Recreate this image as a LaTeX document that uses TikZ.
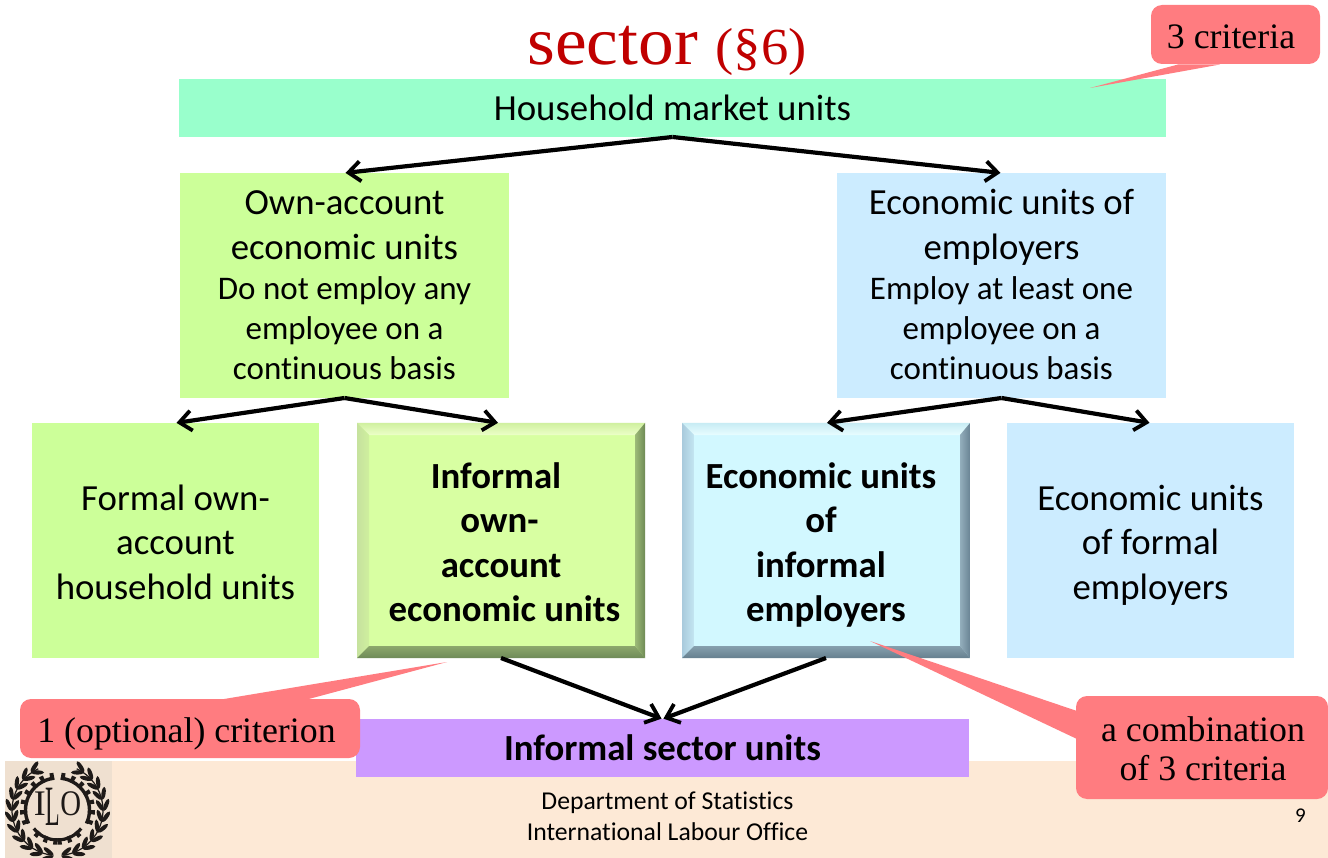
\documentclass[tikz,border=0pt]{standalone}
\usepackage{fontspec}
\setmainfont[Ligatures=NoCommon]{Carlito}
\newfontfamily\serifcall[Ligatures=NoCommon]{Liberation Serif}
\newfontfamily\titleface[FakeStretch=1.05]{Liberation Serif}
\usetikzlibrary{arrows.meta,calc}
\definecolor{mint}{HTML}{99FFCC}
\definecolor{lime}{HTML}{CCFF99}
\definecolor{sky}{HTML}{CCECFF}
\definecolor{limein}{HTML}{D8FFA2}
\definecolor{skyin}{HTML}{D2F8FF}
\definecolor{violet}{HTML}{CC99FF}
\definecolor{foot}{HTML}{FDE9D6}
\definecolor{logobg}{HTML}{EFE0D0}
\definecolor{callred}{HTML}{FF7C80}
\definecolor{titlered}{HTML}{C00000}
\definecolor{logoink}{HTML}{1E1A18}
\tikzset{
  x=1pt,y=-1pt,
  flat/.style={rectangle,inner sep=0pt,outer sep=0pt,align=center,text=black,font=\fontsize{36.8}{44.5}\selectfont},
  boldtext/.style={flat,font=\fontsize{36.8}{44.5}\selectfont\bfseries},
  callout/.style={rectangle,rounded corners=11pt,inner sep=0pt,outer sep=0pt,fill=callred},
  calltext/.style={inner sep=0pt,outer sep=0pt,align=center,font=\fontsize{35.8}{39}\selectfont\serifcall},
  tail/.style={fill=callred,draw=none},
  link/.style={draw=black,line width=4.2pt,-{Straight Barb[length=12pt,width=20pt,line width=3.8pt]},shorten >=1pt},
}
\newcommand{\subf}{\fontsize{33}{40}\selectfont}
\newcommand{\firststrut}{\rule{0pt}{30pt}}
% node, edge/inner colours for top, left, right, bottom
\newcommand{\bevel}[9]{%
  \definecolor{bA}{HTML}{#2}\definecolor{bB}{HTML}{#3}\definecolor{bC}{HTML}{#4}\definecolor{bD}{HTML}{#5}%
  \definecolor{bE}{HTML}{#6}\definecolor{bF}{HTML}{#7}\definecolor{bG}{HTML}{#8}\definecolor{bH}{HTML}{#9}%
  \begin{scope}
    \clip (#1.north west) -- (#1.north east) -- ($(#1.north east)+(-10,12)$) -- ($(#1.north west)+(12,12)$) -- cycle;
    \shade[top color=bA,bottom color=bB] (#1.north west) rectangle ($(#1.north east)+(0,12)$);
  \end{scope}
  \begin{scope}
    \clip (#1.north west) -- ($(#1.north west)+(12,12)$) -- ($(#1.south west)+(12,-12)$) -- (#1.south west) -- cycle;
    \shade[left color=bC,right color=bD] (#1.north west) rectangle ($(#1.south west)+(12,0)$);
  \end{scope}
  \begin{scope}
    \clip (#1.north east) -- ($(#1.north east)+(-10,12)$) -- ($(#1.south east)+(-10,-12)$) -- (#1.south east) -- cycle;
    \shade[left color=bF,right color=bE] ($(#1.north east)+(-10,0)$) rectangle (#1.south east);
  \end{scope}
  \begin{scope}
    \clip (#1.south west) -- ($(#1.south west)+(12,-12)$) -- ($(#1.south east)+(-10,-12)$) -- (#1.south east) -- cycle;
    \shade[top color=bH,bottom color=bG] ($(#1.south west)+(0,-12)$) rectangle (#1.south east);
  \end{scope}
}
\newcommand{\halfwreath}{%
  \foreach \t in {118,132,...,258}{
    \fill[logoink] (\t:49) ellipse[x radius=6.5pt,y radius=2.1pt,rotate=\t-90+28];
    \fill[logoink] (\t:42.5) ellipse[x radius=6.5pt,y radius=2.1pt,rotate=\t-90-28];
  }
  \draw[logoink,line width=1.2pt] (262:45.5) arc[start angle=262,end angle=115,radius=45.5];
  \draw[logoink,line width=3.4pt] (96:32) arc[start angle=96,end angle=205,radius=32];
  \draw[logoink,line width=7pt,dash pattern=on 4pt off 6pt] (96:34) arc[start angle=96,end angle=205,radius=34];
  \draw[logoink,line width=3.2pt] (-90:30) arc[start angle=-90,end angle=-142,radius=30];
  \draw[logoink,line width=6.5pt,dash pattern=on 4pt off 6pt] (-90:31.5) arc[start angle=-90,end angle=-142,radius=31.5];
}
\begin{document}
\begin{tikzpicture}
\useasboundingbox (0,0) rectangle (1328,858);
\fill[white] (0,0) rectangle (1328,858);
% footer
\node[flat,fill=foot,minimum width=1323pt,minimum height=97pt] (footer) at (666.5,809.5) {};
\node[flat,fill=logobg,minimum width=107pt,minimum height=97pt] (logo) at (58.5,809.5) {};
% logo drawing
\begin{scope}[shift={(57.5,810)},y=1pt]
  \halfwreath
  \begin{scope}[xscale=-1]\halfwreath\end{scope}
  \node[inner sep=0pt,anchor=base,text=logoink,font=\fontsize{36}{36}\selectfont\serifcall] (ilot) at (0,-5)
    {I\raisebox{-10pt}{\fontsize{57}{57}\selectfont\scalebox{0.42}[1]{L}}\scalebox{0.8}[1]{O}};
\end{scope}
% title
\node[inner sep=0pt,text=titlered,anchor=base] (title) at (667,65)
  {\titleface\fontsize{68}{68}\selectfont sector \fontsize{52}{52}\selectfont(§6)};
% boxes
\node[flat,fill=mint,minimum width=987pt,minimum height=58pt] (hh) at (672.5,108) {Household market units};
\node[flat,fill=lime,minimum width=329pt,minimum height=225pt] (own) at (344.5,285.5) {};
\node[flat,anchor=north] (ownt) at (344.5,185) {\firststrut Own-account\\economic units\\[-4pt]\subf Do not employ any\\[-4.5pt]\subf employee on a\\[-4.5pt]\subf continuous basis};
\node[flat,fill=sky,minimum width=329pt,minimum height=225pt] (emp) at (1001.5,285.5) {};
\node[flat,anchor=north] (empt) at (1001.5,185) {\firststrut Economic units of\\employers\\[-4pt]\subf Employ at least one\\[-4.5pt]\subf employee on a\\[-4.5pt]\subf continuous basis};
\node[flat,fill=lime,minimum width=287pt,minimum height=235pt] (formal) at (175.5,540.5) {};
\node[flat,anchor=north] (formalt) at (175.5,480) {\firststrut Formal own-\\account\\household units};
\node[flat,fill=limein,minimum width=288pt,minimum height=235pt] (inf) at (501,540.5) {};
\bevel{inf}{D0F0A0}{ECFFC8}{C6E29E}{CFEF9E}{6F8A55}{9DBB78}{6E8A58}{8CA86C}
\node[flat,fill=skyin,minimum width=288pt,minimum height=235pt] (ie) at (826,540.5) {};
\bevel{ie}{C8ECF4}{E8FDFF}{A9CADC}{C4E6F2}{6A8494}{93AEBC}{66808F}{86A0AE}
\node[boldtext,anchor=north] (inft) at (501,458) {\firststrut Informal\hspace*{10pt}\null\\own-\hspace*{3pt}\null\\account\\\hspace*{7pt}economic units};
\node[boldtext,anchor=north] (iet) at (826,458) {\firststrut\hspace*{-10pt}Economic units\\\hspace*{-10pt}of\\\hspace*{-10pt}informal\\employers};
\node[flat,fill=sky,minimum width=287pt,minimum height=235pt] (fe) at (1150.5,540.5) {};
\node[flat,anchor=north] (fet) at (1150.5,480) {\firststrut Economic units\\of formal\\employers};
\node[boldtext,fill=violet,minimum width=613pt,minimum height=58pt] (sec) at (662.5,748) {Informal sector units};
% connectors
\draw[link] (hh.south) -- (own.north);
\draw[link] (hh.south) -- (emp.north);
\draw[link] (own.south) -- (formal.north);
\draw[link] (own.south) -- ($(inf.north)+(-2,0)$);
\draw[link] (emp.south) -- (ie.north);
\draw[link] (emp.south) -- (fe.north);
\draw[link] (inf.south) -- (sec.north);
\draw[link] (ie.south) -- (sec.north);
% callouts
\coordinate (t1) at (1090,88);
\coordinate (t2) at (447,662);
\coordinate (t3) at (870,641);
\fill[tail] (t1) -- (1178,64.5) -- (1220,64.5) -- cycle;
\fill[tail] (t2) -- (218,700) -- (305,700) -- cycle;
\fill[tail] (t3) -- (1077,711) -- (1077,739) -- cycle;
\node[callout,minimum width=169pt,minimum height=59pt] (c1) at (1235.5,34.5) {};
\node[calltext,anchor=base] (c1t) at (1231,49) {3 criteria};
\node[callout,minimum width=340pt,minimum height=59pt] (c2) at (190,728.5) {};
\node[calltext,anchor=base] (c2t) at (186.5,742) {1 (optional) criterion};
\node[callout,minimum width=252pt,minimum height=103pt] (c3) at (1202,747.5) {};
\node[calltext,anchor=north] (c3t) at (1203,717) {a combination\\of 3 criteria};
% footer text
\node[inner sep=0pt,align=center,font=\fontsize{25.7}{31}\selectfont] (dept) at (667.5,816) {Department of Statistics\\International Labour Office};
\node[inner sep=0pt,font=\fontsize{21}{21}\selectfont] (page) at (1300.5,816) {9};
\end{tikzpicture}
\end{document}
